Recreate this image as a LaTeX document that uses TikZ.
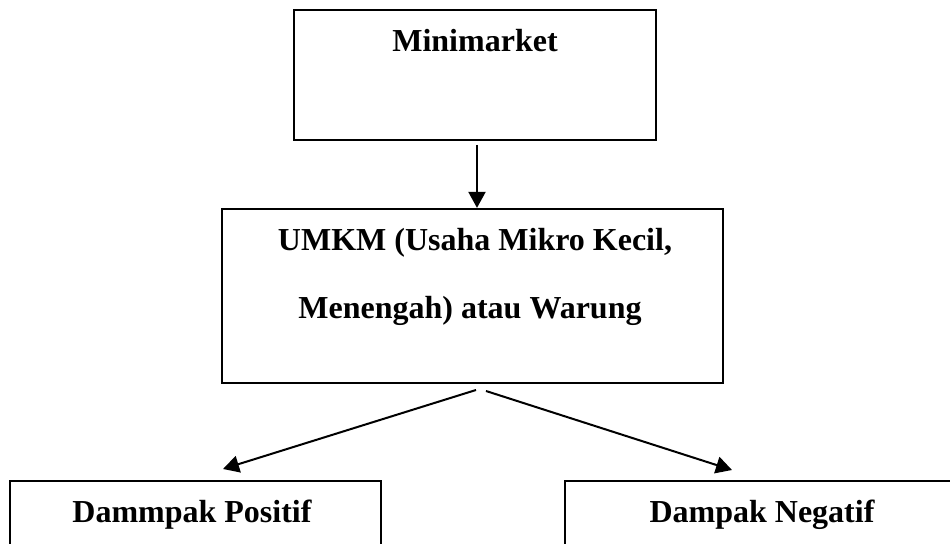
\documentclass[tikz,border=0pt]{standalone}
\usepackage{fontspec}
\setmainfont{Liberation Serif}
\usetikzlibrary{arrows.meta}
\tikzset{
  box/.style={draw=black,line width=1.1pt,inner sep=0pt},
  lbl/.style={font=\fontsize{16}{19}\selectfont\bfseries,anchor=base,inner sep=0pt},
  arr/.style={-{Triangle[width=8.5pt,length=8pt]},line width=1pt}
}
\begin{document}
\begin{tikzpicture}[x=0.5pt,y=-0.5pt]
    \clip (0,0) rectangle (950,544);
    % Kotak
    \node[box,minimum width=181pt,minimum height=65pt] (mini) at (475,75) {};
    \node[box,minimum width=250.5pt,minimum height=87pt] (umkm) at (472.5,296) {};
    \node[box,minimum width=185.5pt,minimum height=50pt] (pos) at (195.5,531) {};
    \node[box,minimum width=197pt,minimum height=50pt] (neg) at (762,531) {};
    % Teks
    \node[lbl] (miniT) at (475,52) {Minimarket};
    \node[lbl] (umkmA) at (475,251) {UMKM (Usaha Mikro Kecil,};
    \node[lbl] (umkmB) at (470,319) {Menengah) atau Warung};
    \node[lbl] (posT) at (192,523) {Dammpak Positif};
    \node[lbl] (negT) at (762,523) {Dampak Negatif};
    % Panah
    \coordinate (m1) at (477,145);
    \coordinate (s1) at (476,390);
    \coordinate (t1) at (223,469);
    \coordinate (s2) at (486,391);
    \coordinate (t2) at (732,470);
    \draw[arr] (m1) -- (m1 |- umkm.north);
    \draw[arr] (s1) -- (t1);
    \draw[arr] (s2) -- (t2);
\end{tikzpicture}
\end{document}
